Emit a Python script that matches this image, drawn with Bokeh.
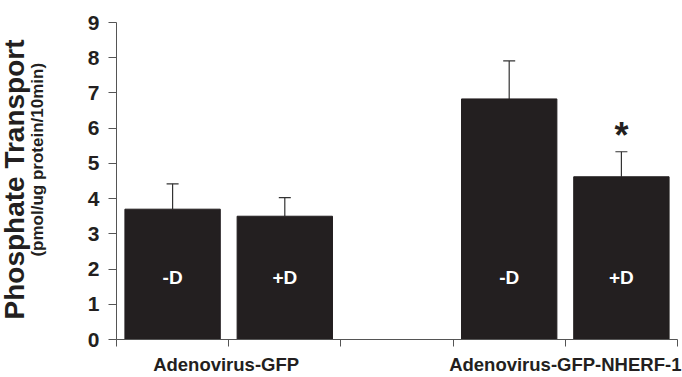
from bokeh.plotting import figure
from bokeh.models import ColumnDataSource, Label, Whisker, FixedTicker, Title
from bokeh.core.properties import value
from bokeh.embed import file_html
from bokeh.resources import INLINE

# ---- data ----
groups = ["Adenovirus-GFP", "Adenovirus-GFP-NHERF-1"]
conditions = ["-D", "+D"]
means = [3.7, 3.5, 6.83, 4.62]
errors = [0.72, 0.53, 1.08, 0.71]
significant = [False, False, False, True]
y_ticks = [0, 1, 2, 3, 4, 5, 6, 7, 8, 9]
y_title = "Phosphate Transport"
y_subtitle = "(pmol/ug protein/10min)"

FONT = "Liberation Sans"
BAR = "#231f20"
TXT = "#231f20"
AX = "#555555"
NB = "\u00a0"

# slot layout: group i occupies slots 3*i, 3*i+1 ; slot 2 empty
xs, labels, tops, lows = [], [], [], []
k = 0
for gi, g in enumerate(groups):
    for ci, c in enumerate(conditions):
        xs.append(3 * gi + ci + 0.5)
        labels.append(c)
        lows.append(means[k])
        tops.append(means[k] + errors[k])
        k += 1

src = ColumnDataSource(dict(x=xs, top=means, lab=labels, lo=lows, hi=tops,
                            ly=[1.75] * len(xs)))

p = figure(width=682, height=377, x_range=(0, 5), y_range=(0, 9),
           output_backend="svg", toolbar_location=None,
           min_border_left=116, min_border_right=5, min_border_top=22,
           min_border_bottom=35)
p.outline_line_color = None
p.grid.grid_line_color = None
p.background_fill_color = "white"

p.vbar(x="x", top="top", bottom=0, width=0.85, source=src,
       fill_color=BAR, line_color=BAR)

w = Whisker(base="x", upper="hi", lower="lo", source=src, dimension="height",
            line_color="#333333", line_width=1.2)
w.upper_head.size = 12
w.upper_head.line_color = "#333333"
w.upper_head.line_width = 1.2
w.lower_head = None
p.add_layout(w)

p.text(x="x", y="ly", text="lab", source=src, text_color="white",
       text_font=value(FONT), text_font_style="bold", text_font_size="19px",
       text_align="center", text_baseline="middle")

for xi, hi, s in zip(xs, tops, significant):
    if s:
        p.add_layout(Label(x=xi, y=hi + 0.45, text="*", text_font=FONT,
                           text_font_style="bold", text_font_size="36px",
                           text_align="center", text_baseline="alphabetic",
                           text_color=TXT))

# axes
p.yaxis.ticker = FixedTicker(ticks=y_ticks)
p.yaxis.minor_tick_line_color = None
p.yaxis.major_tick_in = 0
p.yaxis.major_tick_out = 8
p.yaxis.major_label_text_font = FONT
p.yaxis.major_label_text_font_style = "bold"
p.yaxis.major_label_text_font_size = "21px"
p.yaxis.major_label_text_color = TXT
p.yaxis.major_label_standoff = 9
p.yaxis.axis_line_color = AX
p.yaxis.major_tick_line_color = AX
# subtitle as the axis label; leading no-break spaces lift it along the axis
p.yaxis.axis_label = NB * 9 + y_subtitle
p.yaxis.axis_label_text_font = FONT
p.yaxis.axis_label_text_font_style = "bold"
p.yaxis.axis_label_text_font_size = "17px"
p.yaxis.axis_label_text_color = TXT
p.yaxis.axis_label_standoff = 38

p.xaxis.ticker = FixedTicker(ticks=[0, 1, 2, 3, 4, 5])
p.xaxis.minor_tick_line_color = None
p.xaxis.major_tick_in = 0
p.xaxis.major_tick_out = 7
p.xaxis.major_label_overrides = {0: "", 1: groups[0] + NB, 2: "", 3: "",
                                 4: groups[1], 5: ""}
p.xaxis.major_label_text_font = FONT
p.xaxis.major_label_text_font_style = "bold"
p.xaxis.major_label_text_font_size = "18.5px"
p.xaxis.major_label_text_color = TXT
p.xaxis.major_label_standoff = 7
p.xaxis.axis_line_color = AX
p.xaxis.major_tick_line_color = AX

# main y-axis title
main = Title(text=y_title, align="left", offset=20, text_font=FONT,
             text_font_style="bold", text_font_size="28px", text_color=TXT)
if "standoff" in Title.properties():
    try:
        main.standoff = -11
    except Exception:
        main.standoff = 0
p.add_layout(main, "left")

open("out.html", "w").write(file_html(p, INLINE))
